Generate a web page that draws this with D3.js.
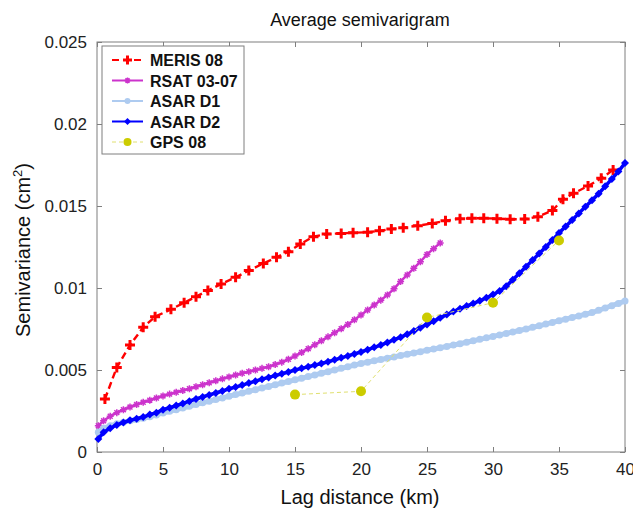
<!DOCTYPE html>
<html><head><meta charset="utf-8">
<script src="https://cdn.jsdelivr.net/npm/d3@7"></script>
<style>body{margin:0;background:#fff;} svg{display:block;font-family:"Liberation Sans",Arial,sans-serif;}</style>
</head><body>
<svg id="c" width="633" height="510"></svg>
<script>
// ---- data ----
const xTicks = [0,5,10,15,20,25,30,35,40];
const yTicks = [0,0.005,0.01,0.015,0.02,0.025];
const yTickLabels = ["0","0.005","0.01","0.015","0.02","0.025"];
const seriesNames = ["MERIS 08","RSAT 03-07","ASAR D1","ASAR D2","GPS 08"];

const merisX = [0.6,1.5,2.5,3.5,4.4,5.6,6.6,7.5,8.4,9.4,10.5,11.5,12.6,13.6,14.5,15.4,16.4,17.4,18.5,19.4,20.5,21.4,22.3,23.2,24.3,25.4,26.4,27.5,28.4,29.3,30.3,31.3,32.4,33.4,34.5,35.3,36.1,37.2,38.2,39.1];
const merisY = [0.00323,0.00516,0.00652,0.0076,0.00825,0.0087,0.0091,0.00947,0.00984,0.01024,0.01065,0.01106,0.0115,0.01187,0.01221,0.01268,0.01313,0.01329,0.01333,0.01337,0.0134,0.01349,0.0136,0.01368,0.0138,0.01394,0.0141,0.01423,0.01425,0.01425,0.01423,0.01419,0.0142,0.01435,0.01472,0.01541,0.01577,0.01622,0.01669,0.0172];

const rsatX = [0.1,0.5,1,1.5,2,2.5,3,3.5,4,4.5,5,5.5,6,6.5,7,7.5,8,8.5,9,9.5,10,10.5,11,11.5,12,12.5,13,13.5,14,14.5,15,15.5,16,16.5,17,17.5,18,18.5,19,19.5,20,20.5,21,21.5,22,22.5,23,23.5,24,24.5,25,25.5,26];
const rsatY = [0.0016,0.0019,0.00218,0.0024,0.00258,0.00274,0.00289,0.00303,0.00316,0.00329,0.00342,0.00353,0.00364,0.00375,0.00386,0.00398,0.0041,0.00422,0.00434,0.00446,0.00458,0.00469,0.0048,0.0049,0.005,0.0051,0.0052,0.00533,0.00548,0.00565,0.00585,0.00607,0.0063,0.00654,0.00678,0.00702,0.00727,0.00752,0.00778,0.00806,0.00836,0.00866,0.00896,0.00926,0.00958,0.00995,0.0104,0.0108,0.0112,0.0116,0.01205,0.0124,0.01275];

const asar1X = [0.1,0.5,1,1.5,2,2.5,3,3.5,4,4.5,5,5.5,6,6.5,7,7.5,8,8.5,9,9.5,10,10.5,11,11.5,12,12.5,13,13.5,14,14.5,15,15.5,16,16.5,17,17.5,18,18.5,19,19.5,20,20.5,21,21.5,22,22.5,23,23.5,24,24.5,25,25.5,26,26.5,27,27.5,28,28.5,29,29.5,30,30.5,31,31.5,32,32.5,33,33.5,34,34.5,35,35.5,36,36.5,37,37.5,38,38.5,39,39.5,40];
const asar1Y = [0.0012,0.00145,0.0016,0.00172,0.00182,0.0019,0.00198,0.00206,0.00215,0.00226,0.00238,0.00248,0.00258,0.00268,0.00279,0.0029,0.003,0.0031,0.0032,0.0033,0.0034,0.0035,0.0036,0.0037,0.0038,0.0039,0.004,0.0041,0.0042,0.0043,0.0044,0.0045,0.0046,0.0047,0.0048,0.0049,0.005,0.0051,0.0052,0.0053,0.0054,0.00548,0.00556,0.00564,0.00572,0.0058,0.00588,0.00596,0.00604,0.00612,0.0062,0.00628,0.00636,0.00644,0.00652,0.0066,0.00669,0.00678,0.00687,0.00696,0.00705,0.00714,0.00723,0.00732,0.00741,0.0075,0.0076,0.0077,0.0078,0.0079,0.008,0.0081,0.0082,0.0083,0.0084,0.0085,0.00864,0.00878,0.00892,0.00906,0.0092];

const asar2X = [0.1,0.5,1,1.5,2,2.5,3,3.5,4,4.5,5,5.5,6,6.5,7,7.5,8,8.5,9,9.5,10,10.5,11,11.5,12,12.5,13,13.5,14,14.5,15,15.5,16,16.5,17,17.5,18,18.5,19,19.5,20,20.5,21,21.5,22,22.5,23,23.5,24,24.5,25,25.5,26,26.5,27,27.5,28,28.5,29,29.5,30,30.5,31,31.5,32,32.5,33,33.5,34,34.5,35,35.5,36,36.5,37,37.5,38,38.5,39,39.5,40];
const asar2Y = [0.0008,0.0012,0.00145,0.00165,0.0018,0.00193,0.00203,0.00213,0.00228,0.0024,0.00258,0.0027,0.00283,0.00296,0.0031,0.00323,0.00336,0.00348,0.0036,0.00372,0.00385,0.00396,0.00408,0.0042,0.00432,0.00444,0.00455,0.00466,0.00477,0.00488,0.005,0.0051,0.0052,0.0053,0.0054,0.0055,0.00562,0.00574,0.00586,0.00598,0.0061,0.00624,0.00638,0.00652,0.00668,0.00684,0.007,0.00718,0.00738,0.00758,0.00778,0.00798,0.00818,0.00838,0.00856,0.00874,0.0089,0.00906,0.00922,0.0094,0.0096,0.00982,0.0101,0.0105,0.0109,0.0113,0.0117,0.0121,0.0125,0.01292,0.01335,0.01375,0.01415,0.01455,0.01495,0.01535,0.01575,0.0162,0.01665,0.0171,0.01762];

const gpsX = [15,20,25,30,35];
const gpsY = [0.0035,0.0037,0.0082,0.0091,0.0129];

// ---- layout ----
const W = 633, H = 510;
const m = {left:97, right:8, top:42, bottom:58};
const svg = d3.select("#c");
const x = d3.scaleLinear().domain([0,40]).range([m.left, W-m.right]);
const y = d3.scaleLinear().domain([0,0.025]).range([H-m.bottom, m.top]);
const axisCol = "#7f7f7f";

svg.append("rect").attr("x",m.left).attr("y",m.top)
  .attr("width",W-m.left-m.right).attr("height",H-m.top-m.bottom)
  .attr("fill","#fff").attr("stroke",axisCol).attr("stroke-width",1);

function styleAxis(g){
  g.select(".domain").remove();
  g.selectAll(".tick line").attr("stroke",axisCol);
  g.selectAll(".tick text").attr("fill","#222").attr("font-size","17px").attr("font-family","Liberation Sans, Arial, sans-serif");
}
svg.append("g").attr("transform",`translate(0,${H-m.bottom})`)
  .call(d3.axisBottom(x).tickValues(xTicks).tickSize(-5).tickPadding(11).tickFormat(d3.format("d")))
  .call(styleAxis);
svg.append("g").attr("transform",`translate(0,${m.top})`)
  .call(d3.axisTop(x).tickValues(xTicks).tickSize(-5).tickFormat(""))
  .call(styleAxis);
svg.append("g").attr("transform",`translate(${m.left},0)`)
  .call(d3.axisLeft(y).tickValues(yTicks).tickSize(-5).tickPadding(10).tickFormat((d,i)=>yTickLabels[i]))
  .call(styleAxis);
svg.append("g").attr("transform",`translate(${W-m.right},0)`)
  .call(d3.axisRight(y).tickValues(yTicks).tickSize(-5).tickFormat(""))
  .call(styleAxis);

// titles
svg.append("text").attr("x",360).attr("y",26).attr("text-anchor","middle")
  .attr("font-size","18px").attr("fill","#111").text("Average semivarigram");
svg.append("text").attr("x",360).attr("y",504).attr("text-anchor","middle")
  .attr("font-size","20px").attr("fill","#111").text("Lag distance (km)");
const yl = svg.append("text").attr("transform","translate(30,250) rotate(-90)").attr("text-anchor","middle")
  .attr("font-size","20px").attr("fill","#111");
yl.append("tspan").text("Semivariance (cm");
yl.append("tspan").attr("font-size","13px").attr("dy","-8").text("2");
yl.append("tspan").attr("dy","8").text(")");

// series
const series = [
  {name:seriesNames[0], xs:merisX, ys:merisY, color:"#ff0000", lw:2.4, dash:"7,4", marker:"plus", ms:10},
  {name:seriesNames[1], xs:rsatX, ys:rsatY, color:"#cc33cc", lw:2.5, dash:null, marker:"star", ms:7},
  {name:seriesNames[2], xs:asar1X, ys:asar1Y, color:"#aecbf0", lw:5, dash:null, marker:"circle", ms:7},
  {name:seriesNames[3], xs:asar2X, ys:asar2Y, color:"#0000ff", lw:3.5, dash:null, marker:"diamond", ms:7},
  {name:seriesNames[4], xs:gpsX, ys:gpsY, color:"#cccc00", lw:1, dash:"4,3", marker:"dot", ms:10, lineColor:"#e0e070"}
];

const plot = svg.append("g");
function drawMarker(g, type, cx, cy, s, color){
  if(type==="plus"){
    g.append("path").attr("d",`M${cx-s/2},${cy}H${cx+s/2}M${cx},${cy-s/2}V${cy+s/2}`)
      .attr("stroke",color).attr("stroke-width",3).attr("fill","none");
  } else if(type==="star"){
    const r=s/2;
    g.append("path").attr("d",`M${cx-r},${cy}H${cx+r}M${cx},${cy-r}V${cy+r}M${cx-r*0.7},${cy-r*0.7}L${cx+r*0.7},${cy+r*0.7}M${cx-r*0.7},${cy+r*0.7}L${cx+r*0.7},${cy-r*0.7}`)
      .attr("stroke",color).attr("stroke-width",1.5).attr("fill","none");
  } else if(type==="circle"){
    g.append("circle").attr("cx",cx).attr("cy",cy).attr("r",s/2).attr("fill",color);
  } else if(type==="diamond"){
    const r=s/2+0.5;
    g.append("path").attr("d",`M${cx},${cy-r}L${cx+r},${cy}L${cx},${cy+r}L${cx-r},${cy}Z`).attr("fill",color);
  } else if(type==="dot"){
    g.append("circle").attr("cx",cx).attr("cy",cy).attr("r",s/2).attr("fill",color);
  }
}
series.forEach(s=>{
  const pts = s.xs.map((v,i)=>[x(v), y(s.ys[i])]);
  const g = plot.append("g");
  g.append("path").attr("d",d3.line()(pts)).attr("fill","none")
    .attr("stroke",s.lineColor||s.color).attr("stroke-width",s.lw)
    .attr("stroke-dasharray",s.dash);
  pts.forEach(p=>drawMarker(g,s.marker,p[0],p[1],s.ms,s.color));
});

// legend
const lg = svg.append("g");
lg.append("rect").attr("x",102).attr("y",46).attr("width",142).attr("height",108)
  .attr("fill","#fff").attr("stroke",axisCol);
series.forEach((s,i)=>{
  const cy = 60 + i*20.5;
  lg.append("line").attr("x1",112).attr("x2",143).attr("y1",cy).attr("y2",cy)
    .attr("stroke",s.lineColor||s.color).attr("stroke-width",s.marker==="circle"?2:(s.lw>1?2:1))
    .attr("stroke-dasharray",s.dash);
  drawMarker(lg,s.marker,127.5,cy,s.marker==="dot"?8:(s.marker==="plus"?9:6),s.color);
  lg.append("text").attr("x",150).attr("y",cy+6).attr("font-size","16px").attr("font-weight","bold")
    .attr("fill","#111").text(s.name);
});
</script>
</body></html>
